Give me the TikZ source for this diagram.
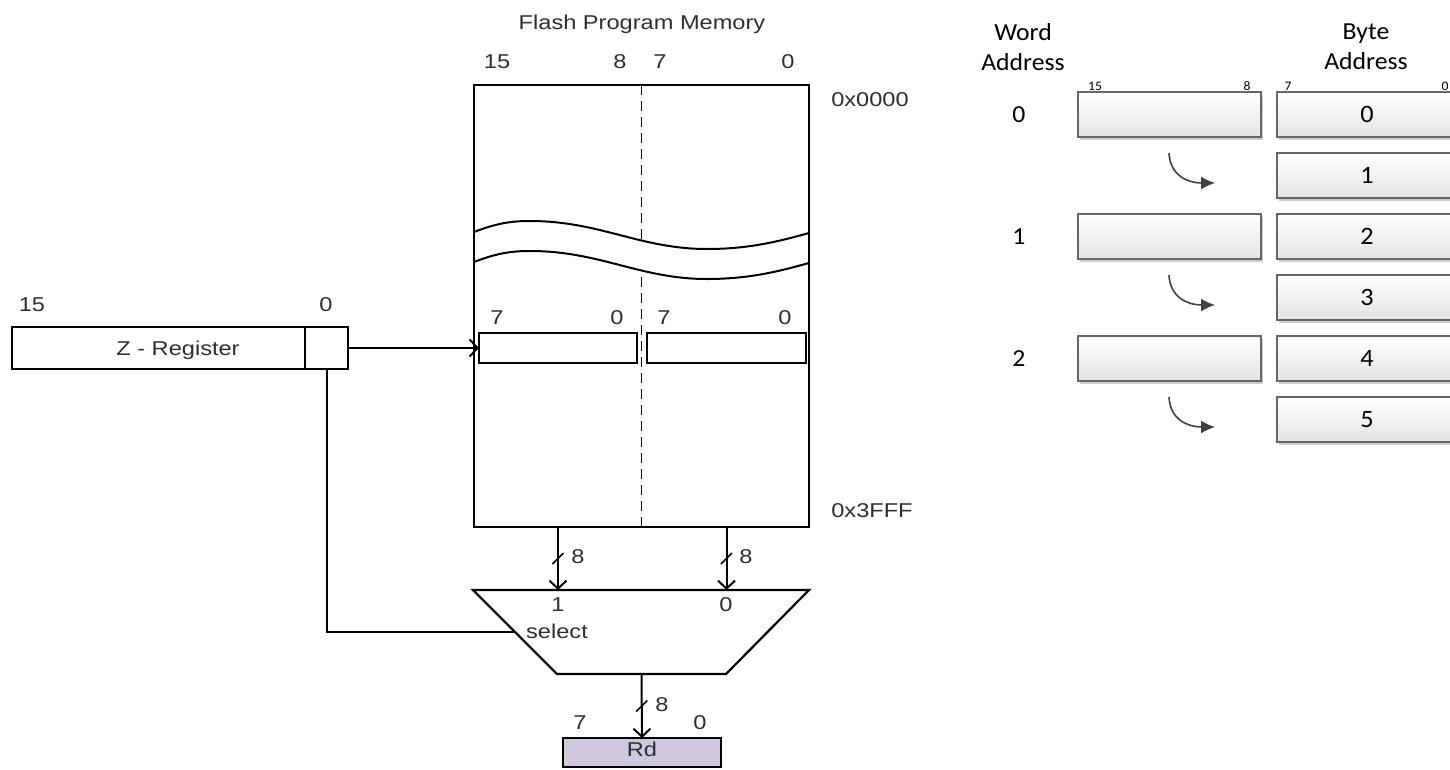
\documentclass[tikz,border=0pt]{standalone}
\usepackage{fontspec}
\newfontfamily\arialfont[FakeStretch=1.18]{Liberation Sans}
\newfontfamily\calfont[FakeStretch=1.05]{Carlito}
\usetikzlibrary{arrows.meta,shapes,shadows,decorations.markings}
\definecolor{rdfill}{HTML}{D0C8DE}
\definecolor{txtgray}{HTML}{2E2E2E}
\tikzstyle{box}=[draw,line width=2pt,inner sep=0pt,outer sep=0pt]
\tikzstyle{mem box}=[box,line width=2.4pt,minimum width=335pt,minimum height=442pt]
\tikzstyle{half box}=[box,minimum height=30pt]
\tikzstyle{reg box}=[box,minimum height=42pt]
\tikzstyle{txt}=[inner sep=0pt,text=txtgray,font=\arialfont\fontsize{20}{23}\selectfont]
\tikzstyle{wire}=[draw,line width=2pt]
\tikzstyle{open tip}=[-{Straight Barb[length=8pt,width=17pt]}]
\tikzstyle{bus}=[wire,open tip,
  postaction={decorate,decoration={markings,mark=at position 0.5 with {\draw[-,line width=1.6pt] (5.5pt,-5.5pt) -- (-5.5pt,5.5pt);}}}]
\tikzstyle{cell}=[draw=black!60,line width=1.1pt,inner sep=0pt,minimum height=45pt,top color=white,bottom color=black!11,
  drop shadow={shadow xshift=2pt,shadow yshift=-2.5pt,opacity=0.2,fill=black}]
\tikzstyle{word cell}=[cell,minimum width=183pt]
\tikzstyle{byte cell}=[cell,minimum width=180pt,font=\calfont\fontsize{25}{28}\selectfont]
\tikzstyle{addr}=[inner sep=0pt,font=\calfont\fontsize{24.5}{30}\selectfont,align=center]
\tikzstyle{bit}=[inner sep=0pt,font=\calfont\fontsize{13}{15}\selectfont]
\tikzstyle{move arrow}=[draw=black!75,line width=1.6pt,-{Latex[length=14pt,width=13pt]}]

\begin{document}
\begin{tikzpicture}[x=1pt,y=-1pt]
    \useasboundingbox (0,0) rectangle (1450,769);
    \clip (0,0) rectangle (1450,769);

    % Flash memory
    \node[mem box] (mem) at (641.5,306) {};
    \draw[line width=1.6pt,dash pattern=on 10pt off 6pt] (mem.north) -- (mem.south);
    \fill[white] (476,231) .. controls (497,223) and (512,221) .. (530,221) .. controls (600,221) and (640,249) .. (707,249)
        .. controls (750,249) and (780,241) .. (807,234) -- (807,264) .. controls (780,271) and (750,279) .. (707,279)
        .. controls (640,279) and (600,251) .. (530,251) .. controls (512,251) and (497,253) .. (476,261) -- cycle;
    \foreach \dy in {0,30}
        \draw[line width=2pt,shift={(0,\dy)}] (474,232) .. controls (497,223) and (512,221) .. (530,221)
            .. controls (600,221) and (640,249) .. (707,249) .. controls (750,249) and (780,241) .. (809,233);

    % Byte halves
    \node[half box,minimum width=158pt] (hi) at (558,348) {};
    \node[half box,minimum width=159pt] (lo) at (726.5,348) {};

    % Memory labels
    \node[txt,anchor=base] (title) at (642,29) {Flash Program Memory};
    \foreach \x/\t/\n in {497/15/a, 620/8/b, 660/7/c, 788/0/d}
        \node[txt] (top\n) at (\x,62) {\t};
    \foreach \x/\t/\n in {497/7/a, 617/0/b, 664/7/c, 785/0/d}
        \node[txt] (half\n) at (\x,318) {\t};
    \node[txt] (first) at (870,100) {0x0000};
    \node[txt] (last) at (872,511) {0x3FFF};

    % Z register
    \node[reg box,minimum width=336pt] (zreg) at (180,348) {};
    \draw[line width=1.3pt] ([xshift=-43pt]zreg.north east) -- ([xshift=-43pt]zreg.south east);
    \node[txt,anchor=base] (zname) at (178,355) {Z - Register};
    \node[txt] (z15) at (32,305) {15};
    \node[txt] (z0) at (326,305) {0};
    \draw[wire,open tip] (zreg.east) -- (hi.west);

    % Multiplexer
    \coordinate (mtl) at (473,590);
    \coordinate (mtr) at (809,590);
    \coordinate (mbr) at (726,674);
    \coordinate (mbl) at (557,674);
    \coordinate (sel) at (515,632);
    \coordinate (mout) at (641.5,674);
    \draw[wire,line width=2.2pt] (mtl) -- (mtr) -- (mbr) -- (mbl) -- cycle;
    \draw[wire] ([xshift=-21.5pt]zreg.south east) |- (sel);
    \draw[bus] (hi |- mem.south) -- (hi |- mtl);
    \draw[bus] (lo |- mem.south) -- (lo |- mtl);
    \node[txt] (w1) at (578,557) {8};
    \node[txt] (w0) at (746,557) {8};
    \node[txt] (in1) at (558,605) {1};
    \node[txt] (in0) at (726,605) {0};
    \node[txt] (selname) at (557,631) {select};

    % Destination register
    \node[box,fill=rdfill,minimum width=158pt,minimum height=29pt] (rd) at (642,752.5) {};
    \node[txt,anchor=base] (rdname) at (642,756) {Rd};
    \draw[bus] (mout) -- (rd.north);
    \node[txt] (wout) at (662,705) {8};
    \node[txt] (rd7) at (580,723) {7};
    \node[txt] (rd0) at (700,723) {0};

    % Word / byte addressing
    \node[addr] (wordhead) at (1023,47) {Word\\Address};
    \node[addr] (bytehead) at (1366,47) {Byte\\Address};
    \foreach \x/\t/\n in {1095/15/a, 1247/8/b, 1288/7/c, 1445/0/d}
        \node[bit] (bit\n) at (\x,86.5) {\t};
    \foreach \k in {0,...,5}
        \node[byte cell] (byte\k) at (1367,{114.5+61*\k}) {\k};
    \foreach \k/\w in {0/0, 2/1, 4/2} {
        \node[word cell] (word\w) at (1169.5,{114.5+61*\k}) {};
        \node[addr] (wa\w) at (1019,{114.5+61*\k}) {\w};
    }
    \foreach \k in {1,3,5} {
        \coordinate (from\k) at (1169,{92+61*\k});
        \coordinate (to\k) at (1215,{122+61*\k});
        \draw[move arrow] (from\k) .. controls +(1,22) and +(-28,0) .. (to\k);
    }

\end{tikzpicture}
\end{document}
